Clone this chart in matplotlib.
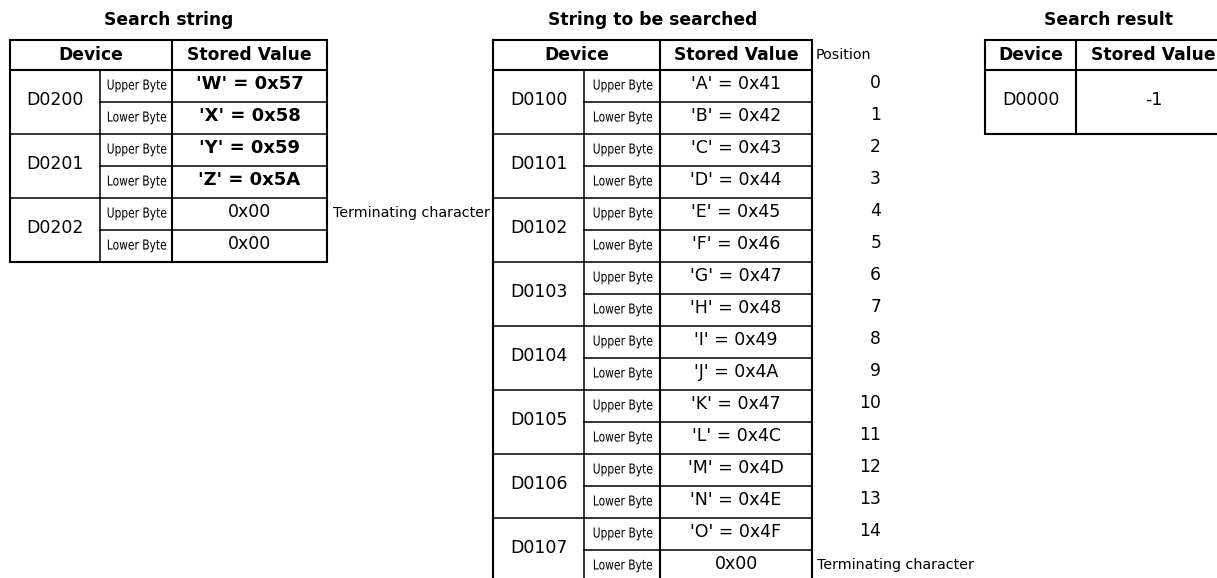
import matplotlib

matplotlib.use("Agg")
import matplotlib.pyplot as plt  # noqa: E402
from matplotlib.font_manager import FontProperties  # noqa: E402
from matplotlib.patches import PathPatch  # noqa: E402
from matplotlib.textpath import TextPath  # noqa: E402
from matplotlib.transforms import Affine2D  # noqa: E402

# search string table
search_devices = ["D0200", "D0201", "D0202"]
search_values = ["'W' = 0x57", "'X' = 0x58", "'Y' = 0x59", "'Z' = 0x5A", "0x00", "0x00"]
search_bold = [True, True, True, True, False, False]

# string to be searched
target_devices = ["D0100", "D0101", "D0102", "D0103", "D0104", "D0105", "D0106", "D0107"]
target_values = ["'A' = 0x41", "'B' = 0x42", "'C' = 0x43", "'D' = 0x44",
                 "'E' = 0x45", "'F' = 0x46", "'G' = 0x47", "'H' = 0x48",
                 "'I' = 0x49", "'J' = 0x4A", "'K' = 0x47", "'L' = 0x4C",
                 "'M' = 0x4D", "'N' = 0x4E", "'O' = 0x4F", "0x00"]
positions = list(range(15))

# search result
result_device = "D0000"
result_value = "-1"

byte_labels = ["Upper Byte", "Lower Byte"]
term_label = "Terminating character"

W, H = 1217, 578
HEAD_TOP, HEAD_BOT, ROW_H = 40, 70, 32
LW_OUT, LW_IN = 1.5, 1.1

fig = plt.figure(figsize=(W / 100, H / 100), dpi=100, facecolor="white")
ax = fig.add_axes([0, 0, 1, 1])
ax.set_xlim(0, W)
ax.set_ylim(H, 0)
ax.axis("off")

NARROW_PROP = FontProperties(family="DejaVu Sans")


def narrow_text(xc, ybase, s, size=13.7, sx=0.78):
    # condensed label: glyph outlines squeezed sideways (no narrow font here)
    tp = TextPath((0, 0), s, size=size, prop=NARROW_PROP)
    bb = tp.get_extents()
    tr = (Affine2D().translate(-(bb.x0 + bb.width / 2), 0)
          .scale(sx, -1).translate(xc, ybase))
    ax.add_patch(PathPatch(tr.transform_path(tp), fc="black", ec="none",
                           lw=0, clip_on=False))


def box(x0, x1, y0, y1, lw=LW_OUT):
    ax.plot([x0, x1, x1, x0, x0], [y0, y0, y1, y1, y0], color="black",
            lw=lw, solid_joinstyle="miter", clip_on=False)


def hline(x0, x1, y, lw=LW_IN):
    ax.plot([x0, x1], [y, y], color="black", lw=lw, clip_on=False)


def vline(x, y0, y1, lw=LW_IN):
    ax.plot([x, x], [y0, y1], color="black", lw=lw, clip_on=False)


def byte_table(cols, title, devices, values, bold):
    x0, x1, x2, x3 = cols
    n = len(values)
    bottom = HEAD_BOT + n * ROW_H
    ax.text((x0 + x3) / 2, 20, title, ha="center", va="center",
            fontsize=12.3, fontweight="bold")
    box(x0, x3, HEAD_TOP, bottom)
    hline(x0, x3, HEAD_BOT, LW_OUT)
    vline(x2, HEAD_TOP, bottom, LW_OUT)
    vline(x1, HEAD_BOT, bottom)
    ax.text((x0 + x2) / 2, (HEAD_TOP + HEAD_BOT) / 2, "Device", ha="center",
            va="center", fontsize=12.3, fontweight="bold")
    ax.text((x2 + x3) / 2, (HEAD_TOP + HEAD_BOT) / 2, "Stored Value",
            ha="center", va="center", fontsize=12.3, fontweight="bold")
    for i, dev in enumerate(devices):
        top = HEAD_BOT + 2 * i * ROW_H
        if i > 0:
            hline(x0, x3, top, LW_IN)
        hline(x1, x3, top + ROW_H, LW_IN)
        ax.text((x0 + x1) / 2, top + ROW_H - 2, dev, ha="center",
                va="center", fontsize=12.5)
    for j, val in enumerate(values):
        yc = HEAD_BOT + j * ROW_H + ROW_H / 2
        narrow_text((x1 + x2) / 2 + 1, yc + 3.5, byte_labels[j % 2])
        ax.text((x2 + x3) / 2, yc - 2, val, ha="center", va="center",
                fontsize=13 if bold[j] else 12.5,
                fontweight="bold" if bold[j] else "normal")
    return bottom


# left table
byte_table((10, 100, 172, 327), "Search string", search_devices,
           search_values, search_bold)
ax.text(333, HEAD_BOT + 4 * ROW_H + ROW_H / 2 - 1, term_label, ha="left",
        va="center", fontsize=10.3)

# middle table
byte_table((493, 584, 660, 812), "String to be searched", target_devices,
           target_values, [False] * len(target_values))
ax.text(816, (HEAD_TOP + HEAD_BOT) / 2, "Position", ha="left", va="center",
        fontsize=10.3)
for p in positions:
    ax.text(881, HEAD_BOT + p * ROW_H + ROW_H / 2 - 2.5, str(p), ha="right",
            va="center", fontsize=12.3)
ax.text(817, HEAD_BOT + len(positions) * ROW_H + ROW_H / 2 - 1, term_label,
        ha="left", va="center", fontsize=10.3)

# right table
rx0, rx1, rx2 = 985, 1076, 1231
rbot = HEAD_BOT + 2 * ROW_H
ax.text((rx0 + rx2) / 2, 20, "Search result", ha="center", va="center",
        fontsize=12.3, fontweight="bold")
box(rx0, rx2, HEAD_TOP, rbot)
hline(rx0, rx2, HEAD_BOT, LW_OUT)
vline(rx1, HEAD_TOP, rbot, LW_OUT)
ax.text((rx0 + rx1) / 2, (HEAD_TOP + HEAD_BOT) / 2, "Device", ha="center",
        va="center", fontsize=12.3, fontweight="bold")
ax.text((rx1 + rx2) / 2, (HEAD_TOP + HEAD_BOT) / 2, "Stored Value",
        ha="center", va="center", fontsize=12.3, fontweight="bold")
ax.text((rx0 + rx1) / 2, HEAD_BOT + ROW_H - 2, result_device, ha="center",
        va="center", fontsize=12.5)
ax.text((rx1 + rx2) / 2, HEAD_BOT + ROW_H - 2, result_value, ha="center",
        va="center", fontsize=12.5)

fig.savefig("out.png", dpi=100, facecolor="white")
